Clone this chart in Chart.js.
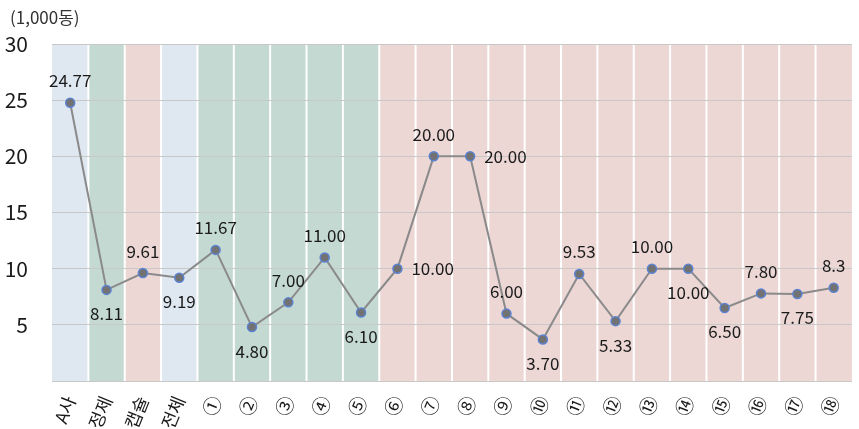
<!DOCTYPE html>
<html>
<head>
<meta charset="utf-8">
<script src="https://cdn.jsdelivr.net/npm/chart.js@4/dist/chart.umd.min.js"></script>
<style>
    html, body { margin: 0; padding: 0; background: #fff; }
    #wrap { position: relative; width: 859px; height: 429px; }
    #unit { position: absolute; left: 10px; top: 4px; font: 17px "Noto Sans CJK KR", "Noto Sans", sans-serif; color: #333; }
</style>
</head>
<body>
<div id="wrap">
    <canvas id="js-price-chart" width="859" height="429"></canvas>
    <div id="unit">(1,000동)</div>
</div>
<script>
// Chart data
const categories = ["A사", "정제", "캡슐", "전체", "①", "②", "③", "④", "⑤", "⑥", "⑦", "⑧", "⑨", "⑩", "⑪", "⑫", "⑬", "⑭", "⑮", "⑯", "⑰", "⑱"];
const prices = [24.77, 8.11, 9.61, 9.19, 11.67, 4.80, 7.00, 11.00, 6.10, 10.00, 20.00, 20.00, 6.00, 3.70, 9.53, 5.33, 10.00, 10.00, 6.50, 7.80, 7.75, 8.3];
const priceLabels = ["24.77", "8.11", "9.61", "9.19", "11.67", "4.80", "7.00", "11.00", "6.10", "10.00", "20.00", "20.00", "6.00", "3.70", "9.53", "5.33", "10.00", "10.00", "6.50", "7.80", "7.75", "8.3"];
const groups = ["blue", "green", "pink", "blue", "green", "green", "green", "green", "green", "pink", "pink", "pink", "pink", "pink", "pink", "pink", "pink", "pink", "pink", "pink", "pink", "pink"];
const labelSides = ["top", "bottom", "top", "bottom", "top", "bottom", "top", "top", "bottom", "right", "top", "right", "top", "bottom", "top", "bottom", "top", "bottom", "bottom", "top", "bottom", "top"];
const yTicks = [0, 5, 10, 15, 20, 25, 30];

const groupColors = { blue: "#dfe7f1", green: "#c3d9d1", pink: "#ecd7d5" };
const fontKR = '"Noto Sans CJK KR", "Noto Sans", sans-serif';

// Column backgrounds behind the plot
const columnBackground = {
    id: "columnBackground",
    beforeDraw(chart) {
        const ctx = chart.ctx;
        const area = chart.chartArea;
        const w = (area.right - area.left) / categories.length;
        ctx.save();
        groups.forEach(function (g, i) {
            const left = area.left + i * w;
            ctx.fillStyle = groupColors[g];
            ctx.fillRect(left, area.top, w, area.bottom - area.top);
            if (i > 0) {
                ctx.fillStyle = "#ffffff";
                ctx.fillRect(left - 1, area.top, 2, area.bottom - area.top);
            }
        });
        ctx.restore();
    },
};

// Value labels next to points
const valueLabels = {
    id: "valueLabels",
    afterDatasetsDraw(chart) {
        const ctx = chart.ctx;
        const meta = chart.getDatasetMeta(0);
        ctx.save();
        ctx.font = "17px " + fontKR;
        ctx.fillStyle = "#1a1a1a";
        meta.data.forEach(function (pt, i) {
            const side = labelSides[i];
            let tx = pt.x, ty = pt.y;
            ctx.textAlign = "center";
            ctx.textBaseline = "middle";
            if (side === "top") ty -= 22;
            else if (side === "bottom") ty += 24;
            else if (side === "right") { tx += 14; ctx.textAlign = "left"; }
            ctx.fillText(priceLabels[i], tx, ty);
        });
        ctx.restore();
    },
};

new Chart(document.getElementById("js-price-chart"), {
    type: "line",
    data: {
        labels: categories,
        datasets: [
            {
                data: prices,
                borderColor: "#8a8a8a",
                borderWidth: 2,
                pointRadius: 4.5,
                pointBackgroundColor: "#727272",
                pointBorderColor: "#5b83d2",
                pointBorderWidth: 1.5,
                tension: 0,
                fill: false,
            },
        ],
    },
    options: {
        responsive: false,
        animation: false,
        layout: { padding: { top: 44, right: 6, left: 0, bottom: 0 } },
        plugins: {
            legend: { display: false },
            tooltip: { enabled: false },
        },
        scales: {
            x: {
                offset: true,
                grid: { display: false },
                border: { display: false },
                ticks: {
                    autoSkip: false,
                    maxRotation: 68,
                    minRotation: 68,
                    color: "#1a1a1a",
                    font: function (c) {
                        return { family: fontKR, size: c.index < 4 ? 18 : 19 };
                    },
                    padding: 4,
                },
                afterFit(scale) { scale.height = 48; },
            },
            y: {
                min: 0,
                max: 30,
                afterBuildTicks(scale) { scale.ticks = yTicks.map(function (v) { return { value: v }; }); },
                grid: { color: "#c8c8c8", lineWidth: 1, drawTicks: false },
                border: { display: false },
                ticks: {
                    color: "#1a1a1a",
                    font: { family: fontKR, size: 21 },
                    padding: 24,
                    callback: function (v) { return v === 0 ? "" : v; },
                },
                afterFit(scale) { scale.width = 52; },
            },
        },
    },
    plugins: [columnBackground, valueLabels],
});
</script>
</body>
</html>
